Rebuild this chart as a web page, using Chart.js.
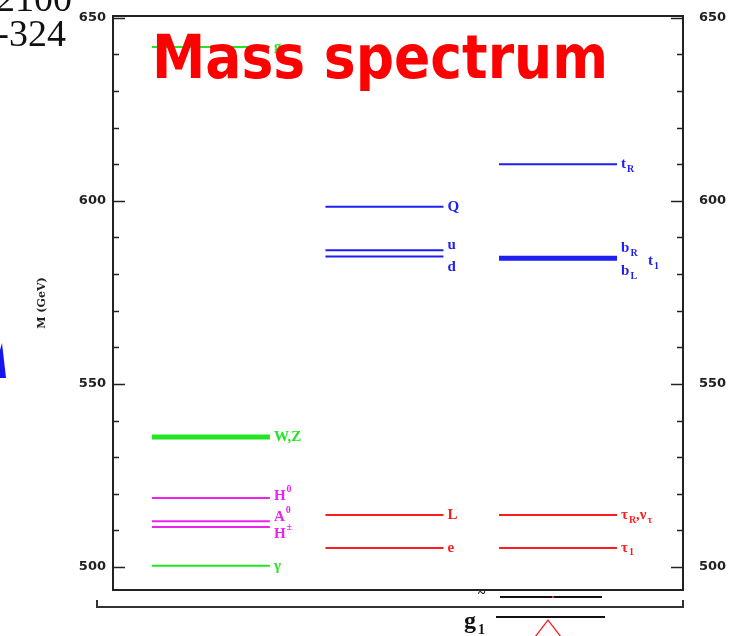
<!DOCTYPE html>
<html>
<head>
<meta charset="utf-8">
<script src="https://cdn.jsdelivr.net/npm/chart.js@4.4.1/dist/chart.umd.min.js"></script>
<style>
  html, body { margin: 0; padding: 0; background: #fff; }
  canvas { display: block; }
</style>
</head>
<body>
<canvas id="espectro" width="753" height="636"></canvas>
<script>
'use strict';
/* Espectro de masas SUSY — niveles por columna */

// columnas: 1 = gauginos/Higgs, 2 = squarks/sleptones 1ra gen, 3 = 3ra gen
const columnas = [1, 2, 3];

// niveles: columna, masa (GeV), etiqueta, subíndice, superíndice, familia
const nivCol    = [1, 1, 1, 1, 1, 1, 2, 2, 2, 2, 2, 3, 3, 3, 3];
const nivMasa   = [642, 535.5, 518.8, 512.5, 510.9, 500.3, 598.4, 586.5, 584.8, 514.2, 505.2, 610.0, 584.3, 514.2, 505.2];
const nivTexto  = ['g', 'W,Z', 'H', 'A', 'H', 'γ', 'Q', 'u', 'd', 'L', 'e', 't', 'b', 'τ', 'τ'];
const nivSub    = ['', '', '', '', '', '', '', '', '', '', '', 'R', 'R', 'R', '1'];
const nivSup    = ['', '', '0', '0', '±', '', '', '', '', '', '', '', '', '', ''];
const nivFam    = ['verde', 'verde', 'magenta', 'magenta', 'magenta', 'verde', 'azul', 'azul', 'azul', 'rojo', 'rojo', 'azul', 'azul', 'rojo', 'rojo'];
const nivGrueso = [false, true, false, false, false, false, false, false, false, false, false, false, true, false, false];

// ejes
const yMin = 493.7, yMax = 650.5;
const yMayores = [500, 550, 600, 650];
const yPaso = 10;

const colores = { verde: '#22e622', magenta: '#ee22ee', azul: '#1f1ff2', rojo: '#ff1c1c' };
const medioAncho = 0.34;

// corrimiento vertical de etiquetas que se pisan
const ajusteEtiqueta = { 2: -2, 3: -4, 4: 7, 7: -5, 8: 11, 12: -10 };

const datasets = nivMasa.map((m, i) => ({
  data: [{ x: nivCol[i] - medioAncho, y: m }, { x: nivCol[i] + medioAncho, y: m }],
  borderColor: colores[nivFam[i]],
  borderWidth: nivGrueso[i] ? 5 : 2,
  pointRadius: 0,
  fill: false,
}));

function textoConIndices(ctx, x, y, base, sub, sup, color) {
  ctx.fillStyle = color;
  ctx.font = 'bold 15px "Liberation Serif", serif';
  ctx.textAlign = 'left';
  ctx.textBaseline = 'middle';
  ctx.fillText(base, x, y);
  const w = ctx.measureText(base).width;
  ctx.font = 'bold 10px "Liberation Serif", serif';
  if (sup) ctx.fillText(sup, x + w + 1, y - 7);
  if (sub) ctx.fillText(sub, x + w + 1, y + 5);
}

const etiquetas = {
  id: 'etiquetas',
  afterDatasetsDraw(chart) {
    const ctx = chart.ctx;
    ctx.save();
    chart.data.datasets.forEach((ds, i) => {
      const p = chart.getDatasetMeta(i).data[1];
      const dy = ajusteEtiqueta[i] || 0;
      const col = ds.borderColor;
      if (i === 12) {
        // b_R / t_1 / b_L comparten nivel
        textoConIndices(ctx, p.x + 4, p.y + dy, 'b', 'R', '', col);
        textoConIndices(ctx, p.x + 4, p.y + 13, 'b', 'L', '', col);
        textoConIndices(ctx, p.x + 31, p.y + 3, 't', '1', '', col);
      } else if (i === 13) {
        textoConIndices(ctx, p.x + 4, p.y, 'τ', 'R', '', col);
        textoConIndices(ctx, p.x + 19, p.y, ',ν', 'τ', '', col);
      } else {
        textoConIndices(ctx, p.x + 4, p.y + dy, nivTexto[i], nivSub[i], nivSup[i], col);
      }
    });
    ctx.restore();
  },
};

// marco, marcas hacia adentro y números de ambos lados
const marco = {
  id: 'marco',
  afterDraw(chart) {
    const { ctx, chartArea: a, scales } = chart;
    const y = scales.y;
    ctx.save();
    ctx.strokeStyle = '#222';
    ctx.lineWidth = 2;
    ctx.strokeRect(a.left, a.top, a.right - a.left, a.bottom - a.top);
    ctx.lineWidth = 1.6;
    for (let v = Math.ceil(yMin / yPaso) * yPaso; v <= yMax; v += yPaso) {
      const py = Math.round(y.getPixelForValue(v)) + 0.5;
      const largo = yMayores.includes(v) ? 12 : 6;
      ctx.beginPath();
      ctx.moveTo(a.left, py); ctx.lineTo(a.left + largo, py);
      ctx.moveTo(a.right, py); ctx.lineTo(a.right - largo, py);
      ctx.stroke();
    }
    ctx.fillStyle = '#222';
    ctx.font = 'bold 13px "DejaVu Sans", sans-serif';
    ctx.textBaseline = 'middle';
    yMayores.forEach(v => {
      const py = y.getPixelForValue(v);
      ctx.textAlign = 'right';
      ctx.fillText(String(v), a.left - 7, py);
      ctx.textAlign = 'left';
      ctx.fillText(String(v), a.right + 16, py);
    });
    // título del eje
    ctx.save();
    ctx.translate(42, (a.top + a.bottom) / 2);
    ctx.rotate(-Math.PI / 2);
    ctx.textAlign = 'center';
    ctx.font = 'bold 11px "DejaVu Serif", serif';
    ctx.fillText('M (GeV)', 0, 0);
    ctx.restore();

    ctx.textBaseline = 'alphabetic';

    // título grande
    ctx.save();
    ctx.font = 'bold 60px "DejaVu Sans", sans-serif';
    ctx.fillStyle = '#ff0000';
    ctx.textAlign = 'left';
    const tw = ctx.measureText('Mass spectrum').width;
    ctx.translate(152, 78);
    ctx.scale(456 / tw, 1);
    ctx.fillText('Mass spectrum', 0, 0);
    ctx.restore();

    // restos de la diapositiva alrededor
    ctx.fillStyle = '#111';
    ctx.font = '38px "Liberation Serif", serif';
    ctx.textAlign = 'right';
    ctx.fillText('2100', 72, 11);
    ctx.fillText('-324', 66, 46);
    ctx.fillStyle = '#1515f0';
    ctx.beginPath();
    ctx.moveTo(0, 378); ctx.lineTo(6, 378); ctx.lineTo(2, 343); ctx.lineTo(0, 350);
    ctx.closePath(); ctx.fill();

    ctx.strokeStyle = '#333';
    ctx.lineWidth = 2;
    ctx.beginPath();
    ctx.moveTo(97, 600); ctx.lineTo(97, 607); ctx.lineTo(683, 607); ctx.lineTo(683, 600);
    ctx.stroke();
    ctx.strokeStyle = '#111';
    ctx.beginPath();
    ctx.moveTo(500, 597); ctx.lineTo(602, 597);
    ctx.moveTo(496, 617); ctx.lineTo(605, 617);
    ctx.stroke();
    ctx.fillStyle = '#111';
    ctx.textAlign = 'left';
    ctx.font = 'bold 24px "Liberation Serif", serif';
    ctx.fillText('g', 464, 628);
    ctx.font = 'bold 14px "Liberation Serif", serif';
    ctx.fillText('1', 478, 634);
    ctx.fillText('~', 478, 598);
    ctx.strokeStyle = '#ff2020';
    ctx.lineWidth = 1.3;
    ctx.beginPath();
    ctx.moveTo(535, 637); ctx.lineTo(548, 620); ctx.lineTo(561, 637);
    ctx.stroke();
    ctx.fillStyle = '#ff2020';
    ctx.fillRect(552, 596, 2, 2);
    ctx.restore();
  },
};

new Chart(document.getElementById('espectro'), {
  type: 'line',
  data: { datasets },
  options: {
    responsive: false,
    animation: false,
    layout: { padding: { left: 113, right: 70, top: 16, bottom: 46 } },
    plugins: { legend: { display: false }, tooltip: { enabled: false } },
    scales: {
      x: { type: 'linear', min: columnas[0] - 0.564, max: columnas[2] + 0.72, display: false },
      y: { type: 'linear', min: yMin, max: yMax, display: false },
    },
  },
  plugins: [etiquetas, marco],
});
</script>
</body>
</html>
